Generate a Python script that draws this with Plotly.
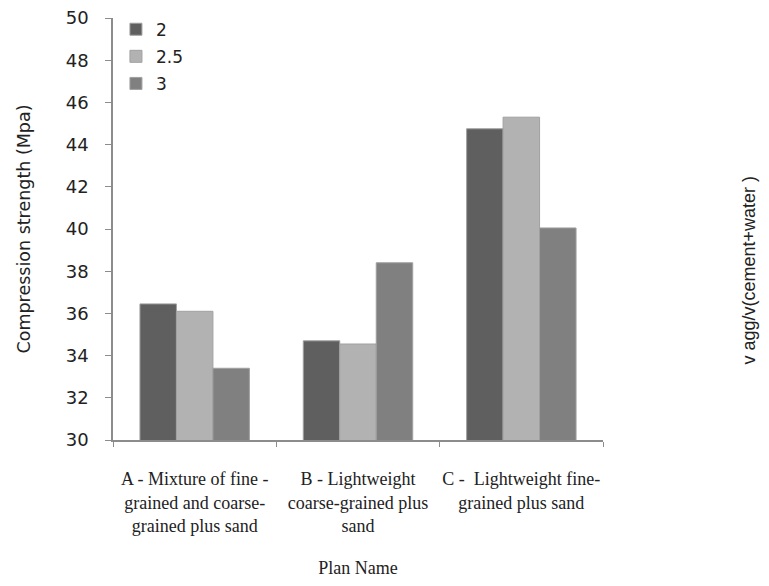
import plotly.graph_objects as go

categories = [
    "A - Mixture of fine -<br>grained and coarse-<br>grained plus sand",
    "B - Lightweight<br>coarse-grained plus<br>sand",
    "C -  Lightweight fine-<br>grained plus sand",
]
series_names = ["2", "2.5", "3"]
values_2 = [36.45, 34.7, 44.75]
values_25 = [36.1, 34.55, 45.3]
values_3 = [33.4, 38.4, 40.05]
colors = ["#5f5f5f", "#b2b2b2", "#808080"]

fig = go.Figure()
for name, vals, col in zip(series_names, [values_2, values_25, values_3], colors):
    fig.add_trace(go.Bar(
        x=categories, y=vals, name=name, legendgroup=name,
        marker=dict(color=col, line=dict(color="#a0a0a0", width=1)),
    ))

serif = "Liberation Serif, Times New Roman, serif"
sans = "DejaVu Sans, Verdana, sans-serif"

# page body adds an 8px margin all round, so the figure is smaller than the window
fig.update_layout(
    width=753, height=570,
    paper_bgcolor="white", plot_bgcolor="white",
    margin=dict(l=105, r=158, t=10, b=138, autoexpand=False),
    barmode="group", bargap=0.33, bargroupgap=0,
    font=dict(family=sans, size=15, color="#222"),
    legend=dict(x=0.006, y=1.015, xanchor="left", yanchor="top",
                font=dict(family=sans, size=17, color="#222"),
                itemwidth=30, tracegroupgap=2, bgcolor="rgba(0,0,0,0)"),
    xaxis=dict(
        automargin=False, tickangle=0,
        showline=True, linecolor="#8c8c8c", linewidth=1.5,
        ticks="outside", tickson="boundaries", ticklen=5, tickcolor="#8c8c8c",
        ticklabelstandoff=22,
        tickfont=dict(family=serif, size=18, color="#222"),
        title=dict(text="Plan Name", font=dict(family=serif, size=18, color="#222"), standoff=28),
    ),
    yaxis=dict(
        automargin=False, ticklabeloverflow="allow",
        range=[30, 50], dtick=2, showgrid=False, zeroline=False,
        showline=True, linecolor="#8c8c8c", linewidth=1.5,
        ticks="outside", ticklen=6, tickcolor="#8c8c8c",
        ticklabelstandoff=13,
        tickfont=dict(family=sans, size=18, color="#222"),
        title=dict(text="Compression strength (Mpa)", font=dict(family=sans, size=17.5, color="#222"), standoff=31),
    ),
)

fig.add_annotation(
    text="v agg/v(cement+water )", textangle=-90,
    xref="paper", yref="paper", x=1.297, y=0.403, xanchor="center", yanchor="middle",
    showarrow=False, font=dict(family="Liberation Sans, Arial, sans-serif", size=18, color="#222"),
)

fig.write_html("out.html")
